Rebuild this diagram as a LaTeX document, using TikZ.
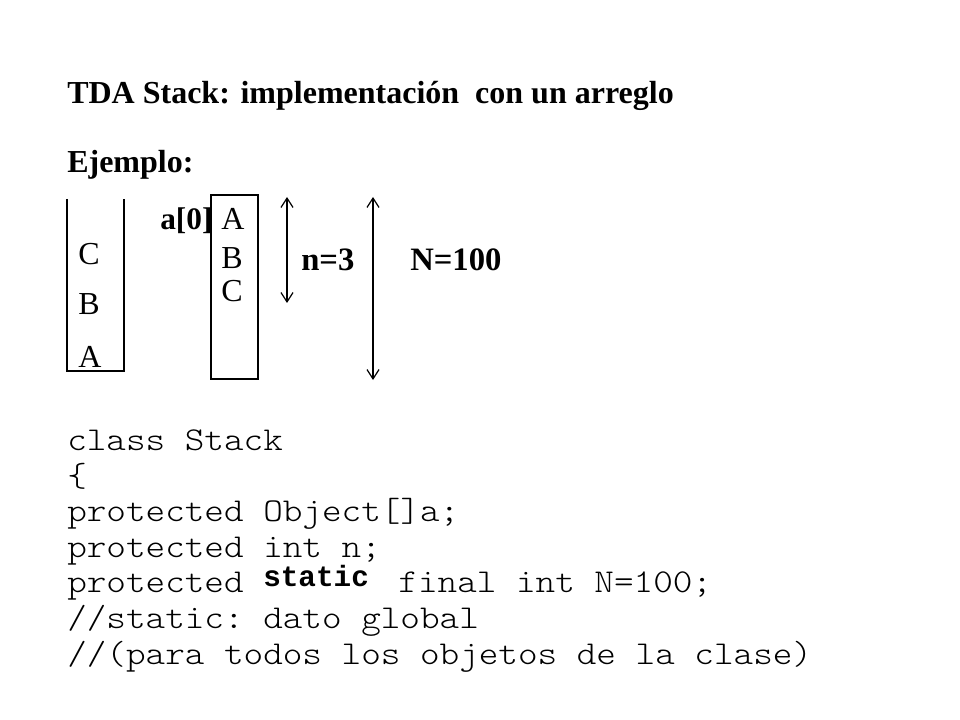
\documentclass[tikz,border=0pt]{standalone}
\usepackage{fontspec}
\setmainfont{Liberation Serif}
\setmonofont{Latin Modern Mono Light}[FakeStretch=1.12]
\newfontfamily\boldmono{Liberation Mono}
\usetikzlibrary{arrows.meta}

\begin{document}
\begin{tikzpicture}[x=0.75pt, y=-0.75pt,
  heading/.style={anchor=base west, inner sep=0pt, font=\fontsize{24}{28}\selectfont\bfseries},
  cell/.style={anchor=base west, inner sep=0pt, font=\fontsize{24}{28}\selectfont},
  tag/.style={anchor=base west, inner sep=0pt, font=\fontsize{24.5}{29}\selectfont\bfseries},
  codeline/.style={anchor=base west, inner sep=0pt, font=\fontsize{25}{30}\selectfont\ttfamily},
  frame/.style={draw, line width=0.9pt},
  span/.style={draw, line width=0.9pt, {Straight Barb[length=7pt, width=9pt]}-{Straight Barb[length=7pt, width=9pt]}}
]
  \useasboundingbox (0,0) rectangle (960,720);

  \node[heading] (title) at (67, 104) {TDA Stack: implementación\ \ con un arreglo};
  \node[heading] (ejemplo) at (67, 173) {Ejemplo:};

  % pila dibujada
  \coordinate (pilaTL) at (67, 199);
  \coordinate (pilaBR) at (124, 371);
  \draw[frame] (pilaTL) |- (pilaBR) -- (pilaBR |- pilaTL);
  \node[cell] (pC) at (78, 265) {C};
  \node[cell] (pB) at (78, 315) {B};
  \node[cell] (pA) at (78, 367) {A};

  % arreglo a[]
  \coordinate (arrTL) at (211, 195);
  \coordinate (arrBR) at (258, 379);
  \draw[frame] (arrTL) rectangle (arrBR);
  \node[tag, font=\fontsize{23.5}{28}\selectfont\bfseries] (a0) at (160, 230) {a[0]};
  \node[cell] (aA) at (221, 230) {A};
  \node[cell] (aB) at (221, 269) {B};
  \node[cell] (aC) at (221, 301) {C};

  % tamanos
  \coordinate (nTop) at (287, 197);
  \coordinate (nBot) at (287, 303);
  \coordinate (NTop) at (373, 197);
  \coordinate (NBot) at (373, 380);
  \draw[span] (nTop) -- (nBot);
  \draw[span] (NTop) -- (NBot);
  \node[tag] (nval) at (301, 271) {n=3};
  \node[tag] (Nval) at (410, 271) {N=100};

  % codigo
  \node[codeline] (c1) at (67, 450) {class Stack};
  \node[codeline] (c2) at (67, 486) {\{};
  \node[codeline] (c3) at (67, 521) {protected Object[]a;};
  \node[codeline] (c4) at (67, 557) {protected int n;};
  \node[codeline] (c5) at (67, 592) {protected \raisebox{4pt}{\boldmono\bfseries\fontsize{22}{26}\selectfont static}\hspace{0.3em} final int N=100;};
  \node[codeline] (c6) at (67, 628) {//static: dato global};
  \node[codeline] (c7) at (67, 664) {//(para todos los objetos de la clase)};
\end{tikzpicture}
\end{document}
